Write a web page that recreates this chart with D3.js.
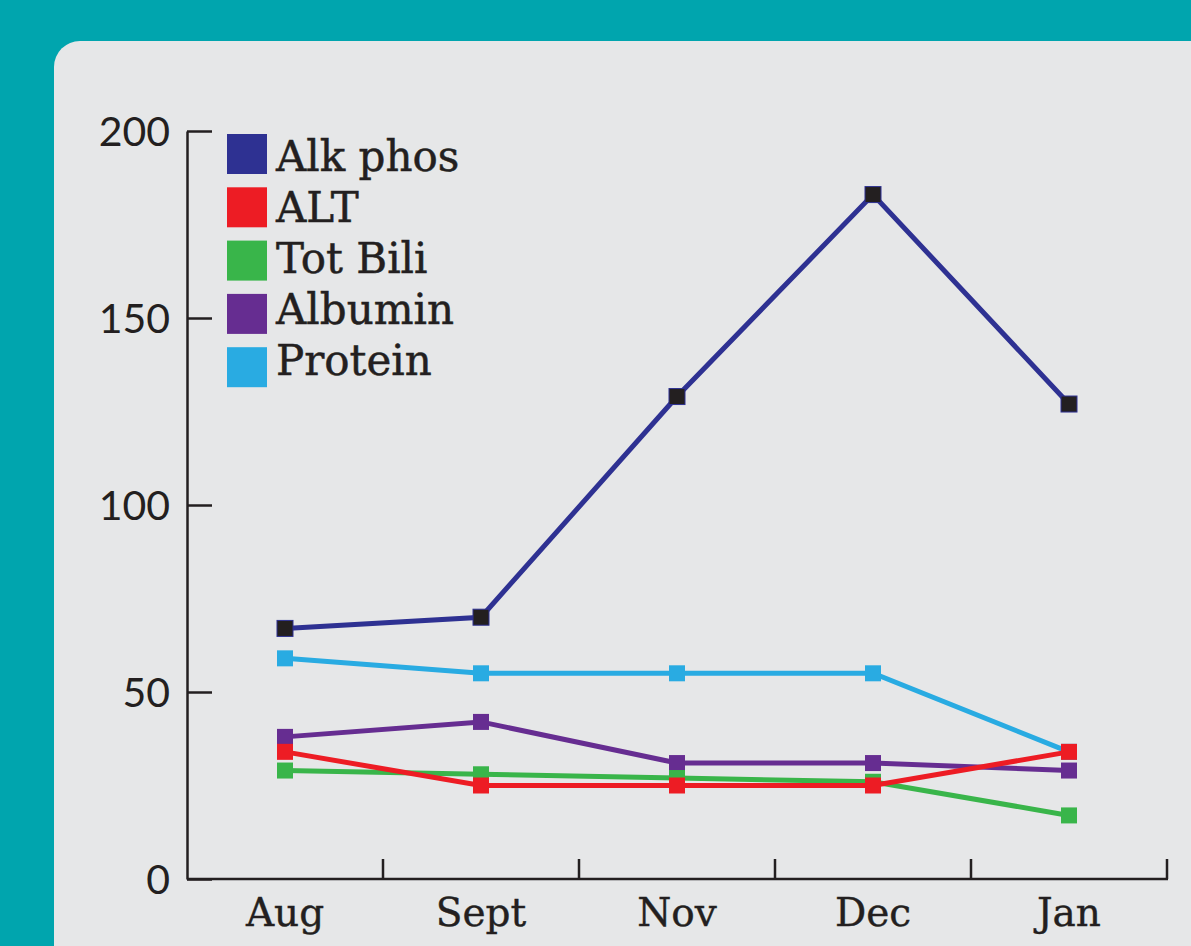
<!DOCTYPE html>
<html>
<head>
<meta charset="utf-8">
<script src="https://cdn.jsdelivr.net/npm/d3@7"></script>
<style>
  html, body { margin: 0; padding: 0; background: #00A5AE; }
  svg { display: block; }
</style>
</head>
<body>
<svg id="chart" width="1191" height="946"></svg>
<script>
const months = ["Aug", "Sept", "Nov", "Dec", "Jan"];
const seriesNames = ["Alk phos", "ALT", "Tot Bili", "Albumin", "Protein"];
const alkPhos = [67, 70, 129, 183, 127];
const alt = [34, 25, 25, 25, 34];
const totBili = [29, 28, 27, 26, 17];
const albumin = [38, 42, 31, 31, 29];
const protein = [59, 55, 55, 55, 34];
const yTicks = [0, 50, 100, 150, 200];
const colors = {
  "Alk phos": "#2E3192",
  "ALT": "#ED1C24",
  "Tot Bili": "#39B54A",
  "Albumin": "#662D91",
  "Protein": "#29ABE2"
};

const seriesData = {
  "Alk phos": alkPhos, "ALT": alt, "Tot Bili": totBili,
  "Albumin": albumin, "Protein": protein
};
const drawOrder = ["Protein", "Albumin", "Tot Bili", "ALT", "Alk phos"];

const svg = d3.select("#chart");
const ink = "#231F20";

// panel
svg.append("rect").attr("x", 54).attr("y", 41)
  .attr("width", 1191 - 54 + 40).attr("height", 946 - 41 + 40)
  .attr("rx", 26).attr("ry", 26).attr("fill", "#E6E7E8");

const x = d3.scaleBand().domain(months).range([187, 1167]).padding(0);
const y = d3.scaleLinear().domain([0, 200]).range([879, 131]);
const cx = m => x(m) + x.bandwidth() / 2;

// y axis
const yAxis = d3.axisLeft(y).tickValues(yTicks).tickSizeInner(-25).tickSizeOuter(0).tickPadding(17);
const gy = svg.append("g").attr("transform", "translate(187,0)").call(yAxis);
gy.select(".domain").attr("stroke", ink).attr("stroke-width", 2.5);
gy.selectAll(".tick line").attr("stroke", ink).attr("stroke-width", 2.5);
gy.selectAll(".tick text").attr("fill", ink)
  .style("font-family", "Lato, 'Open Sans', sans-serif").style("font-size", "41px")
  .attr("dy", "0.36em");

// x axis
const gx = svg.append("g");
gx.append("line").attr("x1", 187).attr("x2", 1168).attr("y1", y(0)).attr("y2", y(0))
  .attr("stroke", ink).attr("stroke-width", 2.5);
gx.selectAll("line.tk").data(months).enter().append("line").attr("class", "tk")
  .attr("x1", d => x(d) + x.bandwidth()).attr("x2", d => x(d) + x.bandwidth())
  .attr("y1", y(0)).attr("y2", y(0) - 20)
  .attr("stroke", ink).attr("stroke-width", 2.5);
gx.selectAll("text").data(months).enter().append("text")
  .attr("x", d => cx(d)).attr("y", y(0) + 47)
  .attr("text-anchor", "middle").attr("fill", ink)
  .attr("stroke", ink).attr("stroke-width", 0.4)
  .style("font-family", "'DejaVu Serif', serif").style("font-size", "39px")
  .text(d => d);

// lines
const line = d3.line().x((d, i) => cx(months[i])).y(d => y(d));
drawOrder.forEach(name => {
  const vals = seriesData[name];
  const g = svg.append("g");
  g.append("path").datum(vals).attr("d", line)
    .attr("fill", "none").attr("stroke", colors[name]).attr("stroke-width", 5)
    .attr("stroke-linejoin", "miter");
  g.selectAll("rect").data(vals).enter().append("rect")
    .attr("x", (d, i) => cx(months[i]) - 8).attr("y", d => y(d) - 8)
    .attr("width", 16).attr("height", 16)
    .attr("fill", name === "Alk phos" ? ink : colors[name])
    .attr("stroke", name === "Alk phos" ? colors[name] : "none")
    .attr("stroke-width", 1);
});

// legend
const lg = svg.append("g");
seriesNames.forEach((name, i) => {
  const ly = 134 + i * 53.3;
  lg.append("rect").attr("x", 227).attr("y", ly).attr("width", 40).attr("height", 40)
    .attr("fill", colors[name]);
  lg.append("text").attr("x", 276).attr("y", 171 + i * 51).attr("fill", ink)
    .attr("stroke", ink).attr("stroke-width", 0.5)
    .style("font-family", "'DejaVu Serif', serif").style("font-size", "42px")
    .text(name);
});
</script>
</body>
</html>
